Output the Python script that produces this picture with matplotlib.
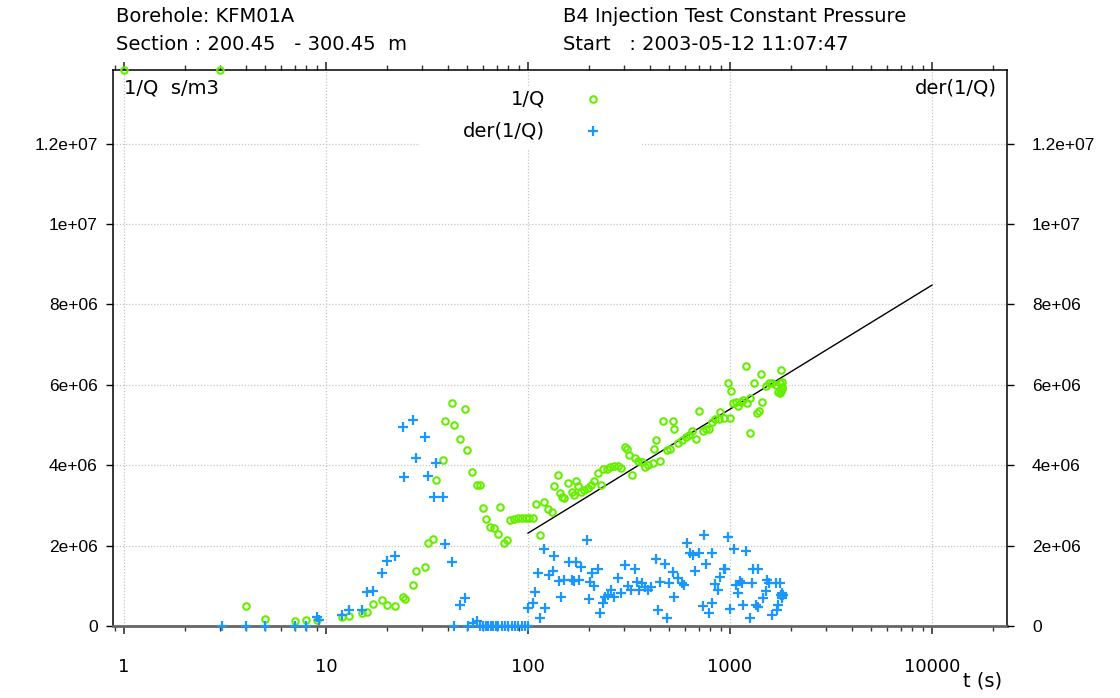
import numpy as np
import matplotlib
matplotlib.use("Agg")
import matplotlib.pyplot as plt
from matplotlib.ticker import FixedLocator, FixedFormatter, LogLocator, NullFormatter

plt.rcParams['font.family'] = ['Liberation Sans', 'DejaVu Sans']
WIDE = ['DejaVu Sans']

# ---------------- data ----------------
# 1/Q (s/m3), values in units of 1e6
q_t = [1, 3, 4.0, 5.0, 7.0, 8.0, 9.0, 12, 13, 15, 16, 17, 19, 20, 22, 24, 24.5, 27, 28, 31,
       32, 34, 35, 38, 39, 42, 43, 46, 49, 50, 53, 56, 58, 60, 62, 65, 68, 71, 73, 76,
       79, 81, 85, 89, 93, 98, 101, 106, 110, 115, 120, 126, 132, 135, 140, 144, 147, 150,
       158, 165, 168, 173, 176, 183, 190, 198, 206, 212, 222, 230, 235, 245, 256, 267, 279,
       290, 303, 309, 316, 328, 340, 350, 366, 381, 391, 414, 420, 428, 448, 467, 486, 505,
       522, 529, 552, 579, 602, 626, 651, 677, 704, 732, 761, 791, 814, 846, 880, 889, 930,
       975, 1000, 1010, 1040, 1065, 1100, 1130, 1160, 1200, 1220, 1250, 1260, 1315, 1360,
       1390, 1420, 1440, 1500, 1560, 1620, 1680, 1720, 1760, 1770, 1790, 1800, 1800, 1810,
       1790]
q_v = [14.5, 14.5, 0.50, 0.17, 0.13, 0.15, 0.15, 0.22, 0.25, 0.33, 0.34, 0.55, 0.65, 0.51,
       0.50, 0.73, 0.66, 1.02, 1.37, 1.48, 2.06, 2.16, 3.63, 4.14, 5.09, 5.55, 5.00, 4.66,
       5.40, 4.37, 3.84, 3.51, 3.51, 2.94, 2.67, 2.47, 2.43, 2.28, 2.97, 2.06, 2.13, 2.64,
       2.66, 2.68, 2.68, 2.69, 2.69, 2.69, 3.03, 2.26, 3.09, 2.90, 2.83, 3.48, 3.75, 3.30,
       3.22, 3.18, 3.55, 3.34, 3.26, 3.61, 3.47, 3.34, 3.38, 3.43, 3.51, 3.61, 3.80, 3.51,
       3.90, 3.91, 3.95, 3.98, 3.98, 3.92, 4.45, 4.40, 4.25, 3.76, 4.17, 4.11, 4.09, 3.95,
       4.00, 4.06, 4.40, 4.63, 4.11, 5.11, 4.38, 4.40, 5.11, 4.89, 4.56, 4.63, 4.70, 4.75,
       4.86, 4.64, 5.36, 4.86, 4.90, 4.89, 5.08, 5.14, 5.14, 5.33, 5.17, 6.04, 5.17, 5.85,
       5.54, 5.56, 5.46, 5.58, 5.62, 6.47, 5.54, 4.79, 5.66, 6.05, 5.31, 5.35, 6.27, 5.56,
       5.97, 6.04, 6.04, 5.99, 5.83, 5.79, 6.04, 6.37, 5.95, 6.08, 5.90, 5.85]

# der(1/Q), values in units of 1e6
d_t = [3.05, 4.0, 5.0, 7.0, 8.0, 9.0, 9.2, 12, 13, 15, 16, 17, 19, 20, 22, 24, 24.2, 27, 28,
       31, 32, 34.4, 35, 38, 39, 42, 43.2, 46, 49, 50.3, 53.6, 56.1, 57.8, 60.1, 61.8, 63.6,
       65.4, 67.4, 69.5, 71.3, 74.1, 76.9, 79.9, 83.0, 86.2, 89.5, 93.0, 96.6, 99.5, 100,
       106, 108, 112, 115, 120, 122, 127, 133, 135, 142, 145, 150, 159, 165, 168, 173, 178,
       183, 195, 200, 202, 208, 212, 222, 227, 235, 241, 249, 257, 267, 279, 290, 303, 314,
       324, 340, 346, 355, 366, 381, 391, 408, 428, 440, 451, 474, 486, 496, 522, 529, 555,
       579, 590, 609, 634, 659, 673, 704, 732, 740, 761, 791, 810, 817, 846, 868, 890, 930,
       940, 980, 1000, 1050, 1070, 1100, 1120, 1150, 1160, 1200, 1250, 1290, 1300, 1340,
       1380, 1380, 1450, 1500, 1520, 1560, 1620, 1680, 1700, 1720, 1770, 1800, 1790, 1810,
       1800, 1820]
d_v = [0, 0, 0, 0, 0, 0.22, 0.16, 0.27, 0.41, 0.40, 0.85, 0.88, 1.31, 1.62, 1.74, 4.96, 3.71,
       5.12, 4.17, 4.71, 3.73, 3.22, 4.06, 3.20, 2.05, 1.58, 0, 0.52, 0.69, 0, 0.08, 0.13, 0,
       0, 0, 0, 0, 0, 0, 0, 0, 0, 0, 0, 0, 0, 0, 0, 0, 0.44,
       0.58, 0.85, 1.33, 0.19, 1.91, 0.44, 1.27, 1.38, 1.74, 1.13, 0.73, 1.14, 1.58, 1.14,
       1.13, 1.60, 1.14, 1.48, 2.14, 0.66, 1.10, 1.31, 1.00, 1.41, 0.32, 0.56, 0.71, 0.77,
       0.90, 0.71, 1.19, 0.81, 1.52, 1.00, 0.90, 1.43, 1.10, 0.90, 1.08, 0.98, 0.90, 0.96,
       1.66, 0.40, 1.10, 1.54, 0.19, 1.08, 1.35, 0.71, 1.19, 1.08, 1.02, 2.07, 1.81, 1.77,
       1.38, 1.81, 0.50, 2.26, 1.54, 0.33, 0.58, 1.81, 1.04, 0.90, 1.23, 1.41, 1.43, 2.22,
       0.42, 1.91, 1.02, 0.83, 1.13, 1.08, 0.52, 1.87, 0.19, 1.06, 1.43, 0.52, 1.43, 0.48,
       0.69, 0.88, 1.14, 1.06, 0.27, 1.08, 0.40, 0.52, 1.06, 0.81, 0.77, 0.74, 0.70, 0.78]

# straight-line fit (semilog)
fit_t = [100, 10000]
fit_v = [2.31, 8.48]

x_ticks = [1, 10, 100, 1000, 10000]
x_labels = ["1", "10", "100", "1000", "10000"]
y_ticks = [0, 2e6, 4e6, 6e6, 8e6, 1e7, 1.2e7]
y_labels = ["0", "2e+06", "4e+06", "6e+06", "8e+06", "1e+07", "1.2e+07"]

SCALE = 1e6
XMIN, XMAX = 0.882, 23500
YMIN, YMAX = 0, 13.83e6

GREEN = '#66ee00'
BLUE = '#1a96ff'
MS_O, MEW_O = 4.7, 1.5
MS_P, MEW_P = 7.2, 1.6

# ---------------- figure ----------------
W, H = 1120, 698
fig = plt.figure(figsize=(W / 100, H / 100), dpi=100)
ax = fig.add_axes([113 / W, 72 / H, 894 / W, 556 / H])
ax.set_xscale('log')
ax.set_xlim(XMIN, XMAX)
ax.set_ylim(YMIN, YMAX)

ax.xaxis.set_major_locator(FixedLocator(x_ticks))
ax.xaxis.set_major_formatter(FixedFormatter(x_labels))
ax.xaxis.set_minor_locator(LogLocator(base=10, subs=np.arange(2, 10)))
ax.xaxis.set_minor_formatter(NullFormatter())
ax.yaxis.set_major_locator(FixedLocator(y_ticks))
ax.yaxis.set_major_formatter(FixedFormatter(y_labels))

ax.grid(True, which='major', color='#c4c4c4', linestyle=(0, (1, 1.5)), linewidth=0.9)
ax.set_axisbelow(True)

ax.tick_params(axis='x', which='major', direction='out', length=6, width=1.2,
               top=True, labeltop=False, labelsize=13, pad=17, color='#333333')
ax.tick_params(axis='x', which='minor', direction='out', length=3.5, width=1.0,
               top=True, color='#333333')
ax.tick_params(axis='y', which='major', direction='out', length=5, width=1.0,
               labelsize=12.5, pad=6)
for lab in ax.get_xticklabels():
    lab.set_family(WIDE)

for s in ['left', 'right', 'top']:
    ax.spines[s].set_color('black')
    ax.spines[s].set_linewidth(1.1)
ax.spines['bottom'].set_color('#666666')
ax.spines['bottom'].set_linewidth(2.0)

# right axis duplicate
ax2 = ax.twinx()
ax2.set_ylim(YMIN, YMAX)
ax2.yaxis.set_major_locator(FixedLocator(y_ticks))
ax2.yaxis.set_major_formatter(FixedFormatter(y_labels))
ax2.tick_params(axis='y', direction='out', length=5, width=1.0, labelsize=12.5, pad=13)
for s in ax2.spines.values():
    s.set_visible(False)

# data
qt = np.array(q_t)
qv = np.minimum(np.array(q_v) * SCALE, YMAX)
dt = np.array(d_t)
dv = np.array(d_v) * SCALE

ax.plot(np.array(fit_t), np.array(fit_v) * SCALE, color='black', lw=1.0, zorder=3)
ax.plot(qt, qv, linestyle='none', marker='o', ms=MS_O, mew=MEW_O, mfc='none',
        mec=GREEN, zorder=4, clip_on=False)
ax.plot(dt, dv, linestyle='none', marker='+', ms=MS_P, mew=MEW_P, color=BLUE, zorder=5,
        clip_on=False)

# legend (manual, white box hiding grid)
rect = plt.Rectangle((420 / W, 1 - 150 / H), 222 / W, 64 / H, transform=fig.transFigure,
                     facecolor='white', edgecolor='none', zorder=2)
ax.add_patch(rect)
ax.text(545 / W, 1 - 99 / H, '1/Q', transform=fig.transFigure, ha='right', va='center',
        fontsize=14, family=WIDE, zorder=6)
ax.text(545 / W, 1 - 131 / H, 'der(1/Q)', transform=fig.transFigure, ha='right',
        va='center', fontsize=14, family=WIDE, zorder=6)
ax.plot([593 / W], [1 - 99 / H], transform=fig.transFigure, marker='o', ms=MS_O,
        mew=MEW_O, mfc='none', mec=GREEN, linestyle='none', clip_on=False, zorder=6)
ax.plot([593 / W], [1 - 131 / H], transform=fig.transFigure, marker='+', ms=MS_P,
        mew=MEW_P, color=BLUE, linestyle='none', clip_on=False, zorder=6)

# axis labels inside
ax.text(124 / W, 1 - 88 / H, '1/Q  s/m3', transform=fig.transFigure, ha='left',
        va='center', fontsize=14, family=WIDE, zorder=6)
ax.text(997 / W, 1 - 88 / H, 'der(1/Q)', transform=fig.transFigure, ha='right',
        va='center', fontsize=14, family=WIDE, zorder=6)
fig.text(983 / W, 1 - 681 / H, 't (s)', ha='center', va='center', fontsize=14,
         family=WIDE)

# headers
hdr = dict(ha='left', va='center', fontsize=14, family=WIDE)
fig.text(116 / W, 1 - 17 / H, 'Borehole: KFM01A', **hdr)
fig.text(116 / W, 1 - 44 / H, 'Section : 200.45   - 300.45  m', **hdr)
fig.text(563 / W, 1 - 17 / H, 'B4 Injection Test Constant Pressure', **hdr)
fig.text(563 / W, 1 - 44 / H, 'Start   : 2003-05-12 11:07:47', **hdr)

fig.savefig('out.png', dpi=100)
